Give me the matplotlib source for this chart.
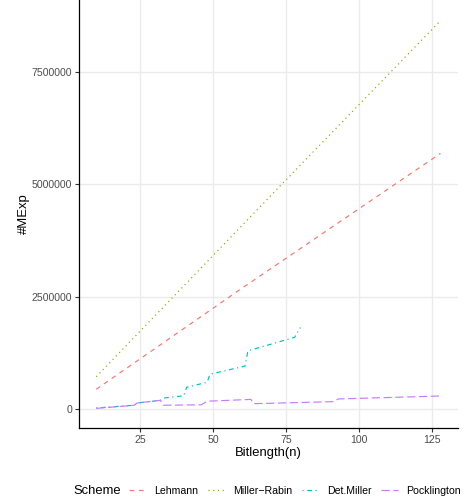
import matplotlib
matplotlib.use("Agg")
import matplotlib.pyplot as plt
from matplotlib.lines import Line2D

plt.rcParams['font.family'] = ['Liberation Sans', 'DejaVu Sans']

# Data (values in millions of modular exponentiations)
schemes = ["Lehmann", "Miller\u2212Rabin", "Det.Miller", "Pocklington"]
colors = ["#F8766D", "#7CAE00", "#00BFC4", "#C77CFF"]

lehmann_n = [10, 59, 128]
lehmann_v = [0.445, 2.65, 5.69]

mr_n = [10, 74, 128]
mr_v = [0.725, 5.03, 8.64]

det_n = [10, 23, 24, 32, 33, 40, 41, 48, 49, 61, 62, 78, 80]
det_v = [0.03, 0.09, 0.14, 0.20, 0.25, 0.30, 0.49, 0.60, 0.78, 0.96, 1.30, 1.60, 1.82]

pock_n = [10, 23, 24, 32, 33, 46, 48, 63, 64, 91, 93, 128]
pock_v = [0.02, 0.09, 0.14, 0.20, 0.09, 0.10, 0.18, 0.22, 0.125, 0.17, 0.23, 0.296]

yticks = [0, 2500000, 5000000, 7500000]
xticks = [25, 50, 75, 100, 125]

series = [(lehmann_n, lehmann_v), (mr_n, mr_v), (det_n, det_v), (pock_n, pock_v)]
lw = 0.85
dashes = [(4, 4), (1, 3), (1, 3, 4, 3), (7, 3)]

fig = plt.figure(figsize=(4.65, 5.03), dpi=100)
ax = fig.add_axes([79 / 465, 1 - 427.7 / 503, (457.7 - 79) / 465, 427.7 / 503])

for (n, v), c, d, name in zip(series, colors, dashes, schemes):
    ax.plot(n, [x * 1e6 for x in v], color=c, lw=lw, dashes=d, label=name)

ax.set_xlim(4.1, 133.9)
ax.set_ylim(-0.409e6, 9.10e6)
ax.set_xticks(xticks)
ax.set_yticks(yticks)
ax.set_yticklabels([str(t) for t in yticks])
ax.grid(True, color="#EBEBEB", lw=1.0)
ax.set_axisbelow(True)
for s in ["top", "right"]:
    ax.spines[s].set_visible(False)
for s in ["left", "bottom"]:
    ax.spines[s].set_color("black")
    ax.spines[s].set_linewidth(0.9)
ax.tick_params(axis="both", colors="#333333", labelcolor="#4D4D4D", labelsize=7.6,
               length=3, width=0.8, pad=2)
ax.set_xlabel("Bitlength(n)", fontsize=9.4, labelpad=2)
ax.set_ylabel("#MExp", fontsize=9.4, labelpad=1.5)

# Legend at bottom
fig.text(73 / 465, 1 - 490.7 / 503, "Scheme", fontsize=9.4, va="center", ha="left")
handles = [Line2D([0], [0], color=c, lw=lw, dashes=d) for c, d in zip(colors, dashes)]
leg = fig.legend(handles, schemes, loc="center left", bbox_to_anchor=(129 / 465, 1 - 490.7 / 503),
                 ncol=4, frameon=False, fontsize=7.6, handlelength=1.6, handletextpad=0.8,
                 columnspacing=0.9, borderaxespad=0, borderpad=0)

fig.savefig("out.png", dpi=100)
